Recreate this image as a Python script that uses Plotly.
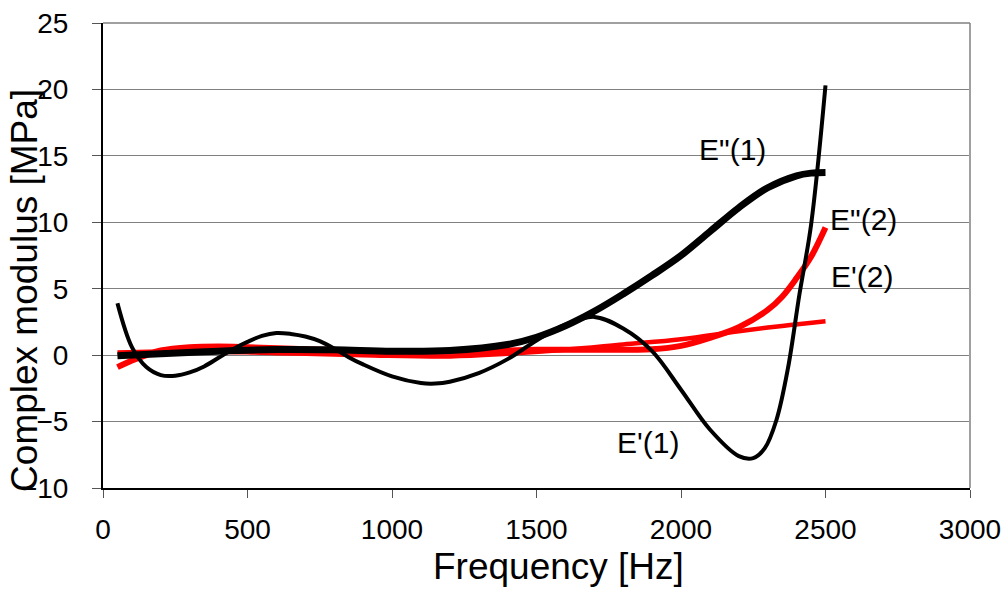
import plotly.graph_objects as go

# E'(1)  (thin black)
f_e1p = [50, 100, 150, 200, 250, 300, 350, 400, 450, 500, 550, 600, 650, 700, 750, 800, 850, 900, 1000, 1100, 1150, 1200, 1300, 1400, 1500, 1600, 1700, 1800, 1900, 2000, 2100, 2200, 2250, 2290, 2330, 2370, 2410, 2450, 2500]
v_e1p = [3.9, 0.6, -0.9, -1.5, -1.55, -1.3, -0.85, -0.2, 0.45, 1.0, 1.45, 1.67, 1.6, 1.4, 1.05, 0.5, -0.15, -0.7, -1.6, -2.1, -2.14, -2.0, -1.35, -0.3, 1.1, 2.3, 2.88, 2.0, 0.3, -2.6, -5.6, -7.6, -7.75, -7.0, -4.9, -1.0, 4.6, 9.8, 20.3]

# E"(1)  (thick black)
f_e1pp = [50, 200, 400, 600, 800, 1000, 1200, 1400, 1500, 1600, 1700, 1800, 1900, 2000, 2100, 2200, 2300, 2400, 2450, 2500]
v_e1pp = [-0.05, 0.1, 0.3, 0.42, 0.4, 0.3, 0.35, 0.8, 1.35, 2.2, 3.3, 4.6, 6.0, 7.5, 9.3, 11.1, 12.6, 13.5, 13.7, 13.75]

# E"(2)  (thick red)
f_e2pp = [50, 100, 150, 200, 300, 400, 500, 700, 900, 1100, 1300, 1500, 1700, 1900, 2000, 2100, 2200, 2300, 2350, 2400, 2450, 2500]
v_e2pp = [-0.9, -0.4, 0.0, 0.35, 0.6, 0.65, 0.6, 0.45, 0.3, 0.25, 0.3, 0.4, 0.4, 0.45, 0.7, 1.3, 2.1, 3.4, 4.4, 5.8, 7.4, 9.6]

# E'(2)  (red)
f_e2p = [50, 300, 600, 900, 1200, 1400, 1600, 1800, 2000, 2200, 2350, 2500]
v_e2p = [0.2, 0.3, 0.15, 0.0, -0.1, 0.1, 0.4, 0.8, 1.2, 1.8, 2.2, 2.55]

labels = ['E"(1)', 'E"(2)', "E'(2)", "E'(1)"]
label_x = [2177, 2633, 2626, 1886]
label_y = [15.5, 10.2, 5.9, -6.6]

x_ticks = [0, 500, 1000, 1500, 2000, 2500, 3000]
y_ticks = [-10, -5, 0, 5, 10, 15, 20, 25]

FONT = "Arial, Liberation Sans, sans-serif"

fig = go.Figure()
fig.add_trace(go.Scatter(x=f_e2p, y=v_e2p, mode="lines", line=dict(color="#ff0000", width=4.5, shape="spline"), name="E'(2)"))
fig.add_trace(go.Scatter(x=f_e2pp, y=v_e2pp, mode="lines", line=dict(color="#ff0000", width=6, shape="spline"), name='E"(2)'))
fig.add_trace(go.Scatter(x=f_e1pp, y=v_e1pp, mode="lines", line=dict(color="#000000", width=7, shape="spline"), name='E"(1)'))
fig.add_trace(go.Scatter(x=f_e1p, y=v_e1p, mode="lines", line=dict(color="#000000", width=4, shape="spline"), name="E'(1)"))

for t, x, y in zip(labels, label_x, label_y):
    fig.add_annotation(x=x, y=y, text=t, showarrow=False, xanchor="center", yanchor="middle",
                       font=dict(family=FONT, size=30, color="#000000"))

fig.add_annotation(xref="paper", yref="paper", x=0.525, y=-0.168, text="Frequency [Hz]", showarrow=False,
                   xanchor="center", yanchor="middle", font=dict(family=FONT, size=37, color="#000000"))
fig.add_annotation(xref="paper", yref="paper", x=-0.0905, y=0.425, text="Complex modulus [MPa]", showarrow=False,
                   textangle=-90, xanchor="center", yanchor="middle", font=dict(family=FONT, size=37, color="#000000"))

# right and top plot-area border
fig.add_shape(type="line", xref="paper", yref="paper", x0=1, x1=1, y0=0, y1=1, line=dict(color="#a0a0a0", width=2))
fig.add_shape(type="line", xref="paper", yref="paper", x0=0, x1=1, y0=1, y1=1, line=dict(color="#808080", width=1.5))

fig.update_layout(
    width=1003, height=589,
    margin=dict(l=102.5, r=33, t=22.7, b=101.3, autoexpand=False),
    paper_bgcolor="white", plot_bgcolor="white",
    showlegend=False,
    font=dict(family=FONT, color="#000000"),
    xaxis=dict(range=[0, 3000], tickvals=x_ticks, ticks="outside", ticklen=8, tickcolor="#555555",
               showgrid=False, zeroline=False, showline=True, linecolor="#000000", linewidth=2,
               automargin=False,
               tickfont=dict(family=FONT, size=28, color="#000000"), ticklabelstandoff=7),
    yaxis=dict(range=[-10, 25], tickvals=y_ticks, ticks="outside", ticklen=9, tickcolor="#555555",
               showgrid=True, gridcolor="#808080", gridwidth=1, zeroline=False,
               showline=True, linecolor="#000000", linewidth=2, automargin=False,
               tickfont=dict(family=FONT, size=28, color="#000000"), ticklabelstandoff=18),
)

fig.write_html("out.html", config={"displayModeBar": False},
               post_script="document.body.style.margin='0';document.body.style.overflow='hidden';")
